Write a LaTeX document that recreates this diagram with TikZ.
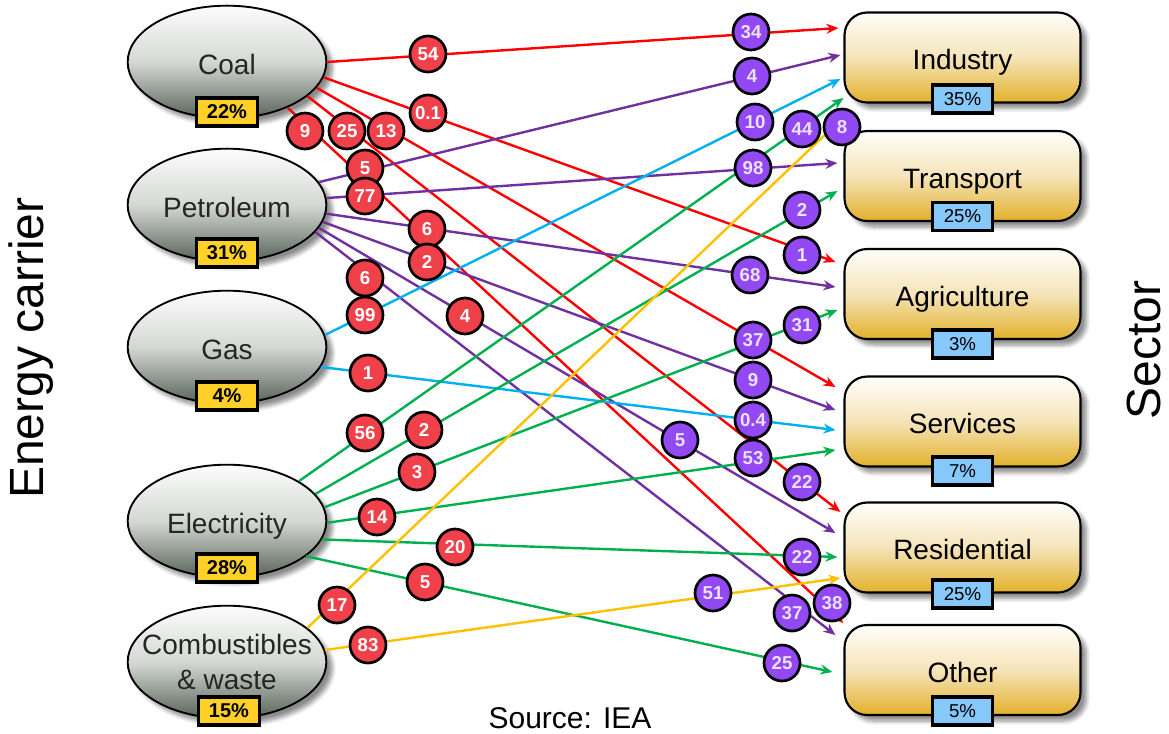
\documentclass[tikz,border=0pt]{standalone}
\usepackage{fontspec}
\setmainfont{Liberation Sans}
\usetikzlibrary{shapes.geometric,arrows.meta,calc,shadows.blur}

\definecolor{flowRed}{RGB}{255,0,0}
\definecolor{flowPurple}{RGB}{112,48,160}
\definecolor{flowCyan}{RGB}{0,176,240}
\definecolor{flowGreen}{RGB}{0,176,80}
\definecolor{flowOrange}{RGB}{255,192,0}
\definecolor{valRed}{RGB}{240,65,75}
\definecolor{valPurple}{RGB}{146,72,242}
\definecolor{valPurpleText}{RGB}{234,226,255}
\definecolor{pctYellow}{RGB}{255,208,40}
\definecolor{pctBlue}{RGB}{135,200,250}
\definecolor{ellTop}{RGB}{252,252,252}
\definecolor{ellMid}{RGB}{212,216,212}
\definecolor{ellBot}{RGB}{88,100,88}
\definecolor{boxTop}{RGB}{255,254,250}
\definecolor{boxMid}{RGB}{245,228,185}
\definecolor{boxBot}{RGB}{226,176,42}

\begin{document}
\begin{tikzpicture}[x=0.75pt,y=-0.75pt,
  softshadow/.style={blur shadow={shadow xshift=4.5pt, shadow yshift=-4.5pt,
      shadow blur steps=6, shadow blur radius=3pt, shadow opacity=45}},
  carrier/.style={ellipse, draw=black, line width=1.4pt, minimum width=149pt,
      minimum height=84.5pt, inner sep=0pt, top color=ellTop, bottom color=ellBot,
      middle color=ellMid, softshadow},
  ctext/.style={font=\fontsize{21}{26}\selectfont, text=black!85,
      text height=22pt, text depth=4pt},
  ctexttwo/.style={font=\fontsize{21}{26}\selectfont, text=black!85, align=center},
  sector/.style={rectangle, rounded corners=17pt, draw=black, line width=1.6pt,
      minimum width=177pt, minimum height=67.5pt, top color=boxTop,
      bottom color=boxBot, middle color=boxMid, softshadow,
      font=\fontsize{21}{26}\selectfont, text height=22pt, text depth=4pt},
  pctL/.style={draw=black, line width=2.4pt, fill=pctYellow, minimum width=45.5pt,
      minimum height=21pt, inner sep=0pt, font=\bfseries\fontsize{15}{18}\selectfont},
  pctR/.style={draw=black, line width=2.4pt, fill=pctBlue, minimum width=45.5pt,
      minimum height=21pt, inner sep=0pt, font=\fontsize{14}{17}\selectfont},
  vr/.style={circle, draw=black, line width=2pt, fill=valRed, text=white,
      minimum size=27pt, inner sep=0pt, font=\bfseries\fontsize{14}{16}\selectfont},
  vp/.style={vr, fill=valPurple, text=valPurpleText},
  flow/.style={line width=1.8pt, -{Stealth[length=9pt,width=7.5pt]}},
  fcoal/.style={flow, draw=flowRed},
  fpet/.style={flow, draw=flowPurple},
  fgas/.style={flow, draw=flowCyan},
  felec/.style={flow, draw=flowGreen},
  fcomb/.style={flow, draw=flowOrange},
  axis/.style={rotate=90, font=\fontsize{36}{40}\selectfont, inner sep=0pt}
]
\useasboundingbox (0,0) rectangle (1169,733);

% energy carriers
\node[carrier, label={[ctext]center:Coal}] (coal) at (227,62) {};
\node[carrier, label={[ctext]center:Petroleum}] (pet) at (227,205) {};
\node[carrier, label={[ctext]center:Gas}] (gas) at (227,347) {};
\node[carrier, label={[ctext]center:Electricity}] (elec) at (227,521) {};
\node[carrier, label={[ctexttwo]center:Combustibles\\\& waste}] (comb) at (227,662) {};

\node[pctL] (coalpc) at ($(coal.center)+(0,50)$) {22\%};
\node[pctL] (petpc)  at ($(pet.center)+(0,48)$) {31\%};
\node[pctL] (gaspc)  at ($(gas.center)+(0,49)$) {4\%};
\node[pctL] (elecpc) at ($(elec.center)+(0,47)$) {28\%};
\node[pctL] (combpc) at ($(comb.center)+(2,49)$) {15\%};

% sectors
\node[sector] (ind) at (962.5,57.5) {Industry};
\node[sector] (tra) at (962.5,176) {Transport};
\node[sector] (agr) at (962.5,294) {Agriculture};
\node[sector] (ser) at (962.5,421.5) {Services};
\node[sector] (res) at (962.5,547.5) {Residential};
\node[sector] (oth) at (962.5,670) {Other};

\node[pctR] (indpc) at ($(ind.center)+(0,41.5)$) {35\%};
\node[pctR] (trapc) at ($(tra.center)+(0,40.5)$) {25\%};
\node[pctR] (agrpc) at ($(agr.center)+(0,50)$) {3\%};
\node[pctR] (serpc) at ($(ser.center)+(0,49.5)$) {7\%};
\node[pctR] (respc) at ($(res.center)+(0,46.5)$) {25\%};
\node[pctR] (othpc) at ($(oth.center)+(0,41)$) {5\%};

% axis titles and source
\node[axis] (axl) at (31,348) {Energy carrier};
\node[axis] (axr) at (1144,350) {Sector};
\node[font=\fontsize{22.5}{26}\selectfont] (src) at (570,718) {Source: IEA};

% flows: coal
\draw[fcoal] (coal.0)   -- ($(ind.west)+(-5,-29.5)$);
\draw[fcoal] (coal.-9)  -- ($(agr.west)+(-8,-32)$);
\draw[fcoal] (coal.-16) -- ($(ser.west)+(-8,-34.5)$);
\draw[fcoal] (coal.-23) -- ($(res.west)+(-3,-35.5)$);
\draw[fcoal] (coal.-37) -- ($(oth.west)+(0,-47)$);
% flows: petroleum
\draw[fpet] (pet.14)  -- ($(ind.west)+(-3,-2.5)$);
\draw[fpet] (pet.4)   -- ($(tra.west)+(-6,-13)$);
\draw[fpet] (pet.-5)  -- ($(agr.west)+(-8,-7)$);
\draw[fpet] (pet.-10) -- ($(ser.west)+(-8,-11.5)$);
\draw[fpet] (pet.-14) -- ($(res.west)+(-8,-14.5)$);
\draw[fpet] (pet.-17) -- ($(oth.west)+(-8,-35)$);
% flows: gas
\draw[fgas] (gas.7)   -- ($(ind.west)+(-3,21.5)$);
\draw[fgas] (gas.-12) -- ($(ser.west)+(-8,8.5)$);
% flows: electricity
\draw[felec] (elec.29)  -- ($(ind.west)+(0,40.5)$);
\draw[felec] (elec.17)  -- ($(tra.west)+(-6,15)$);
\draw[felec] (elec.8)   -- ($(agr.west)+(-6,16)$);
\draw[felec] (elec.-1)  -- ($(ser.west)+(-8,28.5)$);
\draw[felec] (elec.-11) -- ($(res.west)+(-6,9.5)$);
\draw[felec] (elec.-24) -- ($(oth.west)+(-11,2)$);
% flows: combustibles
\draw[fcomb] (comb.23) -- ($(ind.west)+(-5,64.5)$);
\draw[fcomb] (comb.7)  -- ($(res.west)+(-3,30.5)$);

% share of each carrier going to a sector
\node[vr] (r1)  at (428,54)  {54};
\node[vr] (r2)  at (428,113) {0.1};
\node[vr] (r3)  at (305,131) {9};
\node[vr] (r4)  at (347,131) {25};
\node[vr] (r5)  at (386,131) {13};
\node[vr] (r6)  at (365,168) {5};
\node[vr] (r7)  at (365,196) {77};
\node[vr] (r8)  at (427,229) {6};
\node[vr] (r9)  at (427,262) {2};
\node[vr] (r10) at (365,278) {6};
\node[vr] (r11) at (365,315) {99};
\node[vr] (r12) at (465,316) {4};
\node[vr] (r13) at (368,373) {1};
\node[vr] (r14) at (365,433) {56};
\node[vr] (r15) at (424,430) {2};
\node[vr] (r16) at (417,472) {3};
\node[vr] (r17) at (377,517) {14};
\node[vr] (r18) at (455,547) {20};
\node[vr] (r19) at (425,582) {5};
\node[vr] (r20) at (337,605) {17};
\node[vr] (r21) at (368,645) {83};

% share of each sector supplied by a carrier
\node[vp] (p1)  at (751,32)  {34};
\node[vp] (p2)  at (752,76)  {4};
\node[vp] (p3)  at (755,122) {10};
\node[vp] (p4)  at (802,129) {44};
\node[vp] (p5)  at (842,127) {8};
\node[vp] (p6)  at (753,168) {98};
\node[vp] (p7)  at (802,210) {2};
\node[vp] (p8)  at (802,255) {1};
\node[vp] (p9)  at (750,275) {68};
\node[vp] (p10) at (802,325) {31};
\node[vp] (p11) at (753,340) {37};
\node[vp] (p12) at (753,380) {9};
\node[vp] (p13) at (753,420) {0.4};
\node[vp] (p14) at (753,458) {53};
\node[vp] (p15) at (680,440) {5};
\node[vp] (p16) at (802,482) {22};
\node[vp] (p17) at (802,557) {22};
\node[vp] (p18) at (713,593) {51};
\node[vp] (p19) at (792,613) {37};
\node[vp] (p20) at (832,603) {38};
\node[vp] (p21) at (782,663) {25};
\end{tikzpicture}
\end{document}
